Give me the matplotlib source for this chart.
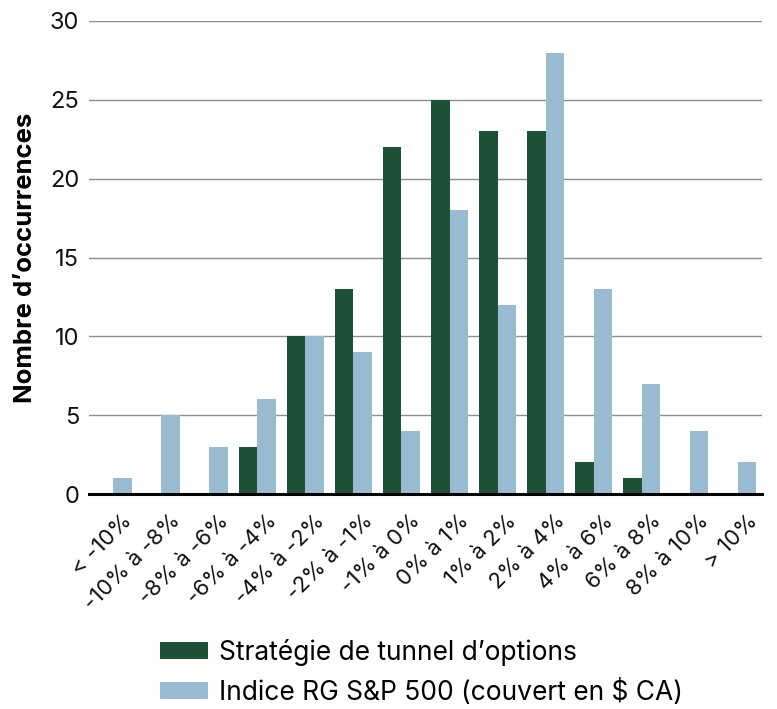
import matplotlib
matplotlib.use("Agg")
import matplotlib.pyplot as plt
import matplotlib.transforms as mtransforms
import numpy as np

categories = ["< -10%", "-10% à -8%", "-8% à -6%", "-6% à -4%", "-4% à -2%", "-2% à -1%",
              "-1% à 0%", "0% à 1%", "1% à 2%", "2% à 4%", "4% à 6%", "6% à 8%",
              "8% à 10%", "> 10%"]
strategy = [0, 0, 0, 3, 10, 13, 22, 25, 23, 23, 2, 1, 0, 0]
index_vals = [1, 5, 3, 6, 10, 9, 4, 18, 12, 28, 13, 7, 4, 2]
series_names = ["Stratégie de tunnel d’options", "Indice RG S&P 500 (couvert en $ CA)"]
yticks = [0, 5, 10, 15, 20, 25, 30]

plt.rcParams['font.family'] = ['Inter', 'DejaVu Sans']

fig = plt.figure(figsize=(7.77, 7.09), dpi=100)
ax = fig.add_axes([0.1145, 0.3032, 0.8662, 0.6672])

x = np.arange(len(categories))
w = 0.385
green = "#1d5239"
blue = "#98bbd1"
b1 = ax.bar(x - w/2, strategy, width=w, color=green, label=series_names[0], zorder=3)
b2 = ax.bar(x + w/2, index_vals, width=w, color=blue, label=series_names[1], zorder=3)

ax.set_xlim(-0.5, len(categories) - 0.5)
ax.set_ylim(0, 30)
ax.set_yticks(yticks)
ax.yaxis.grid(True, color="#8c8c8c", linewidth=1.0, zorder=0)
ax.set_axisbelow(True)
for s in ["top", "right", "left"]:
    ax.spines[s].set_visible(False)
ax.spines["bottom"].set_color("black")
ax.spines["bottom"].set_linewidth(2.2)
ax.spines["bottom"].set_zorder(4)
ax.tick_params(axis="y", length=0, labelsize=17, pad=7, colors="#111111")
ax.tick_params(axis="x", length=0, labelsize=16, pad=12, colors="#111111")
ax.set_xticks(x)
ax.set_xticklabels(categories, rotation=45, ha="right", rotation_mode="anchor")
offset = mtransforms.ScaledTranslation(9/100, 0, fig.dpi_scale_trans)
for lbl in ax.get_xticklabels():
    lbl.set_transform(lbl.get_transform() + offset)
ax.set_ylabel("Nombre d’occurrences", fontsize=18.5, fontweight="bold", labelpad=9)

fig.legend(handles=[b1, b2], loc="lower left", bbox_to_anchor=(0.206, 0.004), frameon=False,
           fontsize=19, handlelength=1.8, handleheight=0.6, handletextpad=0.45,
           labelspacing=0.5, borderpad=0, borderaxespad=0)

fig.savefig("out.png", dpi=100)
